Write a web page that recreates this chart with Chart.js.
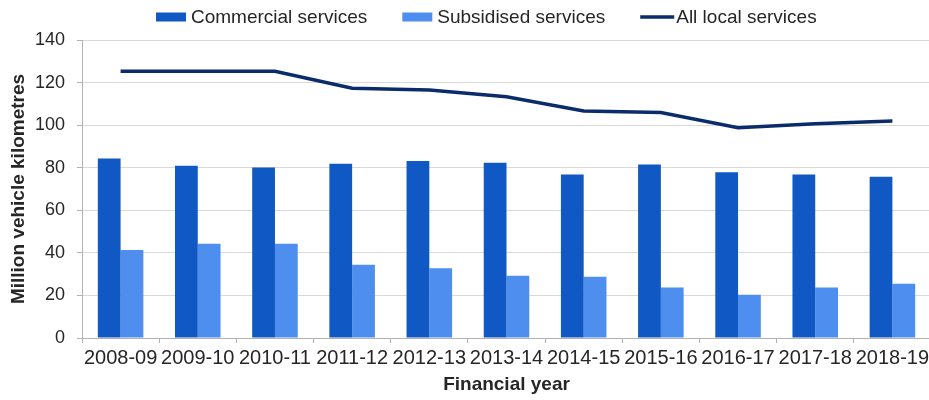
<!DOCTYPE html>
<html>
<head>
<meta charset="utf-8">
<title>Local bus vehicle kilometres</title>
<script src="https://cdn.jsdelivr.net/npm/chart.js@4/dist/chart.umd.min.js"></script>
<style>
  body { margin: 0; background: #fff; overflow: hidden; }
  #wrap { position: relative; width: 935px; height: 400px; }
</style>
</head>
<body>
<div id="wrap"><canvas id="busChart"></canvas></div>
<script>
// Data
const years = ["2008-09", "2009-10", "2010-11", "2011-12", "2012-13", "2013-14",
  "2014-15", "2015-16", "2016-17", "2017-18", "2018-19"]
const commercial = [84.3, 80.9, 80.1, 81.9, 83.1, 82.3, 76.8, 81.5, 77.9, 76.8, 75.8]
const subsidised = [41.3, 44.3, 44.3, 34.4, 32.8, 29.2, 28.8, 23.7, 20.3, 23.7, 25.5]
const allLocal = [125.3, 125.3, 125.3, 117.3, 116.5, 113.3, 106.7, 105.9, 98.8, 100.6, 102]
const yTicks = [0, 20, 40, 60, 80, 100, 120, 140]

const FONT = "'Liberation Sans', Arial, sans-serif"
const TEXT = "#262626"

// Simple legend drawn on the canvas, laid out like the original
const legendPlugin = {
  id: "refLegend",
  afterDraw(chart) {
    const ctx = chart.ctx
    const cy = 17
    let x = 156
    ctx.save()
    ctx.font = "19px " + FONT
    ctx.textBaseline = "middle"
    ctx.textAlign = "left"
    chart.data.datasets.forEach((ds) => {
      if (ds.type === "line") {
        ctx.strokeStyle = ds.borderColor
        ctx.lineWidth = 3.5
        ctx.beginPath()
        ctx.moveTo(x, cy)
        ctx.lineTo(x + 34, cy)
        ctx.stroke()
        x += 36
      } else {
        ctx.fillStyle = ds.backgroundColor
        ctx.fillRect(x, cy - 4.5, 30, 9)
        x += 35
      }
      ctx.fillStyle = TEXT
      ctx.fillText(ds.label, x, cy + 1)
      x += ctx.measureText(ds.label).width + 35
    })
    ctx.restore()
  },
}

new Chart(document.getElementById("busChart"), {
  data: {
    labels: years,
    datasets: [
      {
        type: "bar",
        label: "Commercial services",
        data: commercial,
        backgroundColor: "#1059c4",
        categoryPercentage: 0.59,
        barPercentage: 1.0,
        order: 1,
      },
      {
        type: "bar",
        label: "Subsidised services",
        data: subsidised,
        backgroundColor: "#4d8eee",
        categoryPercentage: 0.59,
        barPercentage: 1.0,
        order: 1,
      },
      {
        type: "line",
        label: "All local services",
        data: allLocal,
        borderColor: "#0b2c6b",
        backgroundColor: "#0b2c6b",
        borderWidth: 3.5,
        pointRadius: 0,
        tension: 0,
        order: 0,
      },
    ],
  },
  options: {
    responsive: true,
    maintainAspectRatio: false,
    animation: false,
    layout: { padding: { top: 40, left: 0, right: 4, bottom: 0 } },
    plugins: {
      legend: { display: false },
      tooltip: { enabled: false },
    },
    scales: {
      x: {
        offset: true,
        grid: {
          offset: true,
          drawOnChartArea: false,
          tickLength: 5,
          color: "#b3b3b3",
        },
        border: { color: "#b3b3b3" },
        ticks: {
          color: TEXT,
          font: { family: FONT, size: 20 },
          padding: 3,
          maxRotation: 0,
          autoSkip: false,
        },
        title: {
          display: true,
          text: "Financial year",
          color: TEXT,
          font: { family: FONT, size: 19, weight: "bold" },
          padding: { top: 0, bottom: 4 },
        },
        afterFit(scale) {
          scale.height = 62
          scale.paddingLeft = 0
          scale.paddingRight = 0
        },
      },
      y: {
        min: 0,
        max: 140,
        afterBuildTicks(scale) {
          scale.ticks = yTicks.map((v) => ({ value: v }))
        },
        grid: {
          color: "#d9d9d9",
          tickLength: 5,
          tickColor: "#b3b3b3",
        },
        border: { color: "#b3b3b3" },
        ticks: {
          color: TEXT,
          font: { family: FONT, size: 18 },
          padding: 12,
        },
        title: {
          display: true,
          text: "Million vehicle kilometres",
          color: TEXT,
          font: { family: FONT, size: 19, weight: "bold" },
          padding: { top: 7, bottom: 0 },
        },
        afterFit(scale) {
          scale.width = 82
        },
      },
    },
  },
  plugins: [legendPlugin],
})
</script>
</body>
</html>
